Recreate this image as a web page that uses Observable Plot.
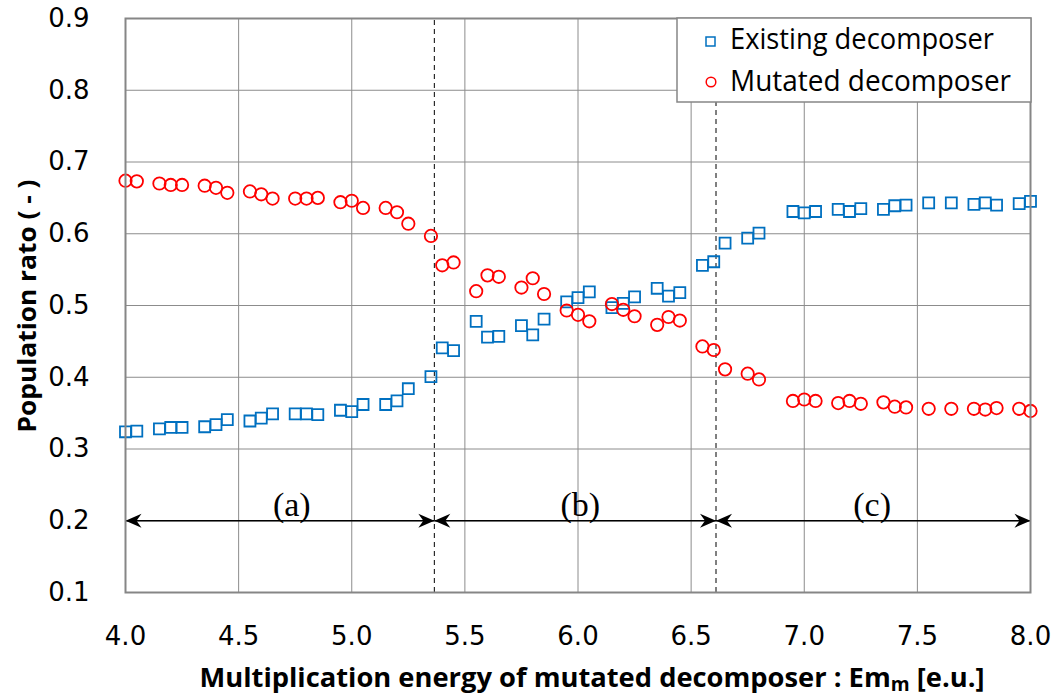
<!DOCTYPE html>
<html>
<head>
<meta charset="utf-8">
<script src="https://cdn.jsdelivr.net/npm/d3@7"></script>
<script src="https://cdn.jsdelivr.net/npm/@observablehq/plot@0.6"></script>
<style>
  html, body { margin: 0; padding: 0; background: #fff; }
  #chart { width: 1055px; height: 697px; }
</style>
</head>
<body>
<div id="chart"></div>
<script>
// Multiplication energy Em_m [e.u.] of the mutated decomposer
const energy = [
  4.00, 4.05, 4.15, 4.20, 4.25, 4.35, 4.40, 4.45, 4.55, 4.60, 4.65, 4.75, 4.80, 4.85,
  4.95, 5.00, 5.05, 5.15, 5.20, 5.25, 5.35, 5.40, 5.45, 5.55, 5.60, 5.65, 5.75, 5.80,
  5.85, 5.95, 6.00, 6.05, 6.15, 6.20, 6.25, 6.35, 6.40, 6.45, 6.55, 6.60, 6.65, 6.75,
  6.80, 6.95, 7.00, 7.05, 7.15, 7.20, 7.25, 7.35, 7.40, 7.45, 7.55, 7.65, 7.75, 7.80,
  7.85, 7.95, 8.00
];

// Population ratio of the existing decomposer
const existingRatio = [
  0.324, 0.325, 0.328, 0.330, 0.330, 0.331, 0.334, 0.341, 0.339, 0.343, 0.349, 0.349, 0.349, 0.348,
  0.354, 0.352, 0.362, 0.362, 0.367, 0.384, 0.401, 0.441, 0.437, 0.478, 0.456, 0.457, 0.472, 0.459,
  0.481, 0.505, 0.511, 0.519, 0.497, 0.503, 0.512, 0.524, 0.513, 0.518, 0.556, 0.561, 0.587, 0.594,
  0.601, 0.631, 0.629, 0.631, 0.634, 0.631, 0.635, 0.634, 0.639, 0.640, 0.643, 0.643, 0.641, 0.643,
  0.640, 0.642, 0.645
];

// Population ratio of the mutated decomposer
const mutatedRatio = [
  0.674, 0.673, 0.670, 0.668, 0.668, 0.667, 0.664, 0.657, 0.659, 0.655, 0.649, 0.649, 0.649, 0.650,
  0.644, 0.646, 0.636, 0.636, 0.630, 0.614, 0.597, 0.556, 0.560, 0.520, 0.542, 0.540, 0.525, 0.538,
  0.516, 0.493, 0.487, 0.478, 0.502, 0.494, 0.485, 0.473, 0.484, 0.479, 0.443, 0.438, 0.411, 0.405,
  0.397, 0.367, 0.369, 0.367, 0.364, 0.367, 0.363, 0.365, 0.359, 0.358, 0.356, 0.356, 0.356, 0.355,
  0.357, 0.356, 0.353
];

// Regimes (a), (b), (c) and their boundaries on the energy axis
const regionNames = ["(a)", "(b)", "(c)"];
const regionBounds = [4.0, 5.365, 6.61, 8.0];
const regionLabelX = [4.735, 6.01, 7.30];
const regionLevel = 0.2;

const xTicks = [4.0, 4.5, 5.0, 5.5, 6.0, 6.5, 7.0, 7.5, 8.0];
const yTicks = [0.1, 0.2, 0.3, 0.4, 0.5, 0.6, 0.7, 0.8, 0.9];

const seriesNames = ["Existing decomposer", "Mutated decomposer"];
const blue = "#0070C0";
const red = "#FF0000";

const existing = energy.map((x, i) => ({x, y: existingRatio[i]}));
const mutated = energy.map((x, i) => ({x, y: mutatedRatio[i]}));

const spans = regionNames.map((name, i) => ({
  name, x1: regionBounds[i], x2: regionBounds[i + 1], lx: regionLabelX[i]
}));
const heads = spans.flatMap(s => [
  {x: s.x1, rotate: 180},
  {x: s.x2, rotate: 0}
]);

// Filled, notched arrowhead with its tip at the origin, pointing right
const stealth = {
  draw(ctx) {
    ctx.moveTo(0, 0);
    ctx.lineTo(-16, -7);
    ctx.lineTo(-11, 0);
    ctx.lineTo(-16, 7);
    ctx.closePath();
  }
};

const grid = "#8c8c8c";
const tickFont = "'DejaVu Sans', sans-serif";
const fmt = d3.format(".1f");
const xMin = 4, yMin = 0.1;

const plot = Plot.plot({
  width: 1055,
  height: 697,
  marginLeft: 125,
  marginRight: 25,
  marginTop: 18,
  marginBottom: 105,
  style: {fontFamily: tickFont, background: "#fff", color: "#000"},
  x: {domain: [4, 8], axis: null},
  y: {domain: [0.1, 0.9], axis: null},
  marks: [
    Plot.gridX(xTicks, {stroke: grid, strokeOpacity: 1, strokeWidth: 1}),
    Plot.gridY(yTicks, {stroke: grid, strokeOpacity: 1, strokeWidth: 1}),
    // Tick labels
    Plot.text(xTicks, {x: d => d, y: yMin, dy: 44, text: d => fmt(d), fontSize: 26,
      fontFamily: tickFont, fill: "#000", lineAnchor: "middle"}),
    Plot.text(yTicks, {x: xMin, y: d => d, dx: -36, text: d => fmt(d), fontSize: 26,
      fontFamily: tickFont, fill: "#000", textAnchor: "end", lineAnchor: "middle"}),
    Plot.ruleX(regionBounds.slice(1, 3), {y1: 0.1, y2: 0.9, stroke: "#000", strokeWidth: 1, strokeDasharray: "5,4"}),
    Plot.link(spans, {x1: "x1", x2: "x2", y1: regionLevel, y2: regionLevel, stroke: "#000", strokeWidth: 1.5}),
    Plot.dot(heads, {x: "x", y: regionLevel, symbol: stealth, rotate: "rotate", fill: "#000", stroke: "none"}),
    Plot.text(spans, {x: "lx", y: regionLevel, text: "name", dy: -16, fontSize: 34,
      fontFamily: "'Liberation Serif', 'DejaVu Serif', serif", fill: "#000"}),
    Plot.dot(existing, {x: "x", y: "y", symbol: "square", r: 6.2, stroke: blue, strokeWidth: 1.8, fill: "none"}),
    Plot.dot(mutated, {x: "x", y: "y", symbol: "circle", r: 6.2, stroke: red, strokeWidth: 1.8, fill: "none"}),
    Plot.frame({stroke: "#868686", strokeWidth: 2})
  ]
});

const svg = d3.select(plot);

// Axis titles
const xTitle = svg.append("text")
  .attr("x", 592).attr("y", 687)
  .attr("text-anchor", "middle")
  .attr("font-family", "'Open Sans', sans-serif")
  .attr("font-weight", "bold")
  .attr("font-size", 27)
  .attr("fill", "#000")
  .attr("textLength", 785)
  .attr("lengthAdjust", "spacingAndGlyphs");
xTitle.append("tspan").text("Multiplication energy of mutated decomposer : Em");
xTitle.append("tspan").attr("font-size", 19).attr("dy", 4).text("m");
xTitle.append("tspan").attr("dy", -4).text(" [e.u.]");

svg.append("text")
  .attr("transform", "translate(36,306) rotate(-90)")
  .attr("text-anchor", "middle")
  .attr("font-family", "'Open Sans', sans-serif")
  .attr("font-weight", "bold")
  .attr("font-size", 25)
  .attr("fill", "#000")
  .attr("textLength", 253)
  .attr("lengthAdjust", "spacingAndGlyphs")
  .text("Population rato ( - )");

// Legend box in the upper right corner of the plot area
const legend = svg.append("g").attr("transform", "translate(677,18)");
legend.append("rect")
  .attr("width", 354).attr("height", 84)
  .attr("fill", "#fff").attr("stroke", "#868686").attr("stroke-width", 1.5);
legend.append("rect")
  .attr("x", 29).attr("y", 19).attr("width", 9).attr("height", 9)
  .attr("fill", "none").attr("stroke", blue).attr("stroke-width", 1.5);
legend.append("circle")
  .attr("cx", 34).attr("cy", 64).attr("r", 4.8)
  .attr("fill", "none").attr("stroke", red).attr("stroke-width", 1.5);
const legendWidths = [264, 281];
seriesNames.forEach((name, i) => {
  legend.append("text")
    .attr("x", 53).attr("y", 31 + i * 42)
    .attr("text-anchor", "start")
    .attr("font-family", "'Open Sans', sans-serif")
    .attr("font-size", 29)
    .attr("fill", "#000")
    .attr("textLength", legendWidths[i])
    .attr("lengthAdjust", "spacingAndGlyphs")
    .text(name);
});

document.getElementById("chart").appendChild(plot);
</script>
</body>
</html>
